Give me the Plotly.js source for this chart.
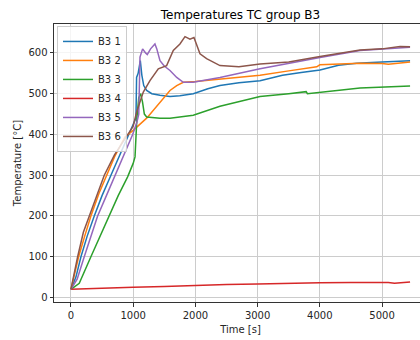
<!DOCTYPE html>
<html>
<head>
<meta charset="utf-8">
<script src="https://cdn.plot.ly/plotly-3.0.1.min.js"></script>
<style>
html, body { margin: 0; padding: 0; overflow: hidden; background: #fff; }
#chart { width: 430px; height: 340px; }
</style>
</head>
<body>
<div id="chart"></div>
<script>
// Series names
const seriesNames = ["B3 1", "B3 2", "B3 3", "B3 4", "B3 5", "B3 6"];
const seriesColors = ["#1f77b4", "#ff7f0e", "#2ca02c", "#d62728", "#9467bd", "#8c564b"];

// B3 1
const t1 = [0, 80, 161, 260, 375, 500, 643, 800, 937, 1000, 1045, 1055, 1080, 1115, 1140, 1170, 1217, 1300, 1431, 1592, 1750, 1966, 2200, 2395, 2700, 3039, 3400, 3700, 4003, 4300, 4593, 5000, 5450];
const v1 = [20, 50, 100, 150, 200, 250, 300, 355, 400, 422, 440, 540, 550, 581, 545, 520, 508, 500, 496, 493, 495, 500, 512, 520, 527, 532, 545, 552, 558, 570, 575, 578, 581];

// B3 2
const t2 = [0, 50, 124, 220, 321, 450, 573, 700, 868, 1000, 1217, 1404, 1592, 1700, 1806, 2000, 2400, 3039, 3500, 3950, 4000, 4646, 5000, 5100, 5450];
const v2 = [20, 50, 100, 150, 200, 255, 300, 345, 394, 410, 440, 475, 508, 520, 528, 530, 536, 545, 556, 566, 571, 575, 574, 572, 578];

// B3 3
const t3 = [0, 134, 321, 470, 616, 760, 911, 1000, 1030, 1060, 1090, 1120, 1150, 1180, 1217, 1431, 1592, 1966, 2395, 3039, 3500, 3780, 3800, 4003, 4646, 5450];
const v3 = [20, 35, 100, 150, 200, 250, 296, 329, 345, 440, 490, 500, 480, 450, 443, 440, 440, 447, 469, 493, 500, 505, 500, 503, 514, 519];

// B3 4
const t4 = [0, 500, 1000, 1500, 2000, 2500, 3000, 3500, 4000, 4500, 4900, 5100, 5200, 5450];
const v4 = [20, 23, 25, 27, 30, 32, 33, 35, 36, 37, 38, 37, 35, 38];

// B3 5
const t5 = [0, 100, 214, 320, 429, 570, 712, 850, 992, 1060, 1090, 1110, 1152, 1200, 1227, 1280, 1350, 1380, 1431, 1500, 1592, 1700, 1806, 1966, 2395, 3039, 3500, 4003, 4646, 5000, 5450];
const v5 = [20, 45, 100, 150, 200, 250, 300, 350, 400, 430, 450, 590, 610, 600, 596, 610, 622, 610, 581, 568, 557, 540, 528, 528, 540, 561, 575, 589, 606, 610, 614];

// B3 6
const t6 = [0, 50, 108, 200, 295, 420, 536, 700, 911, 1000, 1056, 1100, 1163, 1270, 1404, 1538, 1645, 1752, 1833, 1913, 1977, 2074, 2180, 2395, 2700, 3039, 3500, 4003, 4646, 5000, 5289, 5450];
const v6 = [20, 60, 100, 160, 200, 255, 300, 350, 400, 420, 455, 475, 504, 532, 561, 569, 606, 622, 640, 634, 638, 598, 586, 569, 566, 573, 578, 591, 607, 610, 616, 615];

const xTickVals = [0, 1000, 2000, 3000, 4000, 5000];
const yTickVals = [0, 100, 200, 300, 400, 500, 600];

const times = [t1, t2, t3, t4, t5, t6];
const values = [v1, v2, v3, v4, v5, v6];

const traces = seriesNames.map((name, i) => ({
  x: times[i],
  y: values[i],
  name: name,
  type: "scatter",
  mode: "lines",
  line: { color: seriesColors[i], width: 1.5 }
}));

const font = { family: "DejaVu Sans, sans-serif", size: 10, color: "#262626" };

const layout = {
  width: 430,
  height: 340,
  margin: { l: 54, r: 3, t: 24, b: 38 },
  paper_bgcolor: "#ffffff",
  plot_bgcolor: "#ffffff",
  font: font,
  title: {
    text: "Temperatures TC group B3",
    font: { family: "DejaVu Sans, sans-serif", size: 12, color: "#000000" },
    x: 0.5, xanchor: "center", xref: "paper",
    y: 1, yref: "paper", yanchor: "bottom", pad: { b: 5 }
  },
  xaxis: {
    range: [-272, 5722],
    tickvals: xTickVals,
    ticktext: xTickVals.map(String),
    showgrid: true, gridcolor: "#cccccc", gridwidth: 1,
    zeroline: false,
    showline: true, linecolor: "#333333", linewidth: 1, mirror: true,
    ticks: "outside", ticklen: 3.5, tickcolor: "#333333",
    tickfont: font,
    title: { text: "Time [s]", font: font, standoff: 6 }
  },
  yaxis: {
    range: [-11, 671],
    tickvals: yTickVals,
    ticktext: yTickVals.map(String),
    showgrid: true, gridcolor: "#cccccc", gridwidth: 1,
    zeroline: false,
    showline: true, linecolor: "#333333", linewidth: 1, mirror: true,
    ticks: "outside", ticklen: 3.5, tickcolor: "#333333",
    tickfont: font,
    title: { text: "Temperature [°C]", font: font, standoff: 4 }
  },
  legend: {
    x: 0.008, y: 0.993, xanchor: "left", yanchor: "top",
    bgcolor: "rgba(255,255,255,0.8)",
    bordercolor: "#cccccc", borderwidth: 1,
    font: { family: "DejaVu Sans, sans-serif", size: 10, color: "#262626" },
    itemwidth: 30,
    tracegroupgap: 0
  },
  showlegend: true
};

Plotly.newPlot("chart", traces, layout, { displayModeBar: false, staticPlot: true });
</script>
</body>
</html>
